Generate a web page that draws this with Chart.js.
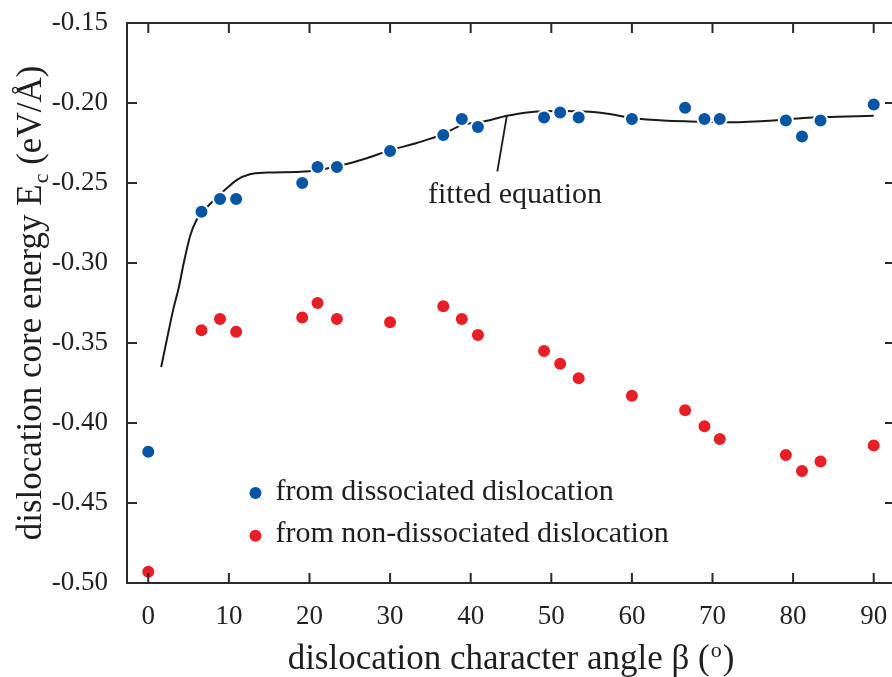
<!DOCTYPE html>
<html>
<head>
<meta charset="utf-8">
<script src="https://cdn.jsdelivr.net/npm/chart.js@4.4.1/dist/chart.umd.min.js"></script>
<style>
  html, body { margin: 0; padding: 0; background: #fff; overflow: hidden; }
  canvas { display: block; }
</style>
</head>
<body>
<canvas id="myChart" width="904" height="677"></canvas>
<script>
// Data
const angles = [0, 6.6, 8.9, 10.9, 19.1, 21.0, 23.4, 30.0, 36.6, 38.9, 40.9, 49.1, 51.1, 53.4, 60.0, 66.6, 69.0, 70.9, 79.1, 81.1, 83.4, 90.0];
const dissociated = [-0.418, -0.268, -0.260, -0.260, -0.250, -0.240, -0.240, -0.230, -0.220, -0.210, -0.215, -0.209, -0.206, -0.209, -0.210, -0.203, -0.210, -0.210, -0.211, -0.221, -0.211, -0.201];
const nonDissociated = [-0.493, -0.342, -0.335, -0.343, -0.334, -0.325, -0.335, -0.337, -0.327, -0.335, -0.345, -0.355, -0.363, -0.372, -0.383, -0.392, -0.402, -0.410, -0.420, -0.430, -0.424, -0.414];

// fitted curve
const fitAngles = [1.6, 2.3, 3.1, 3.8, 4.4, 5.2, 6.0, 7.3, 8.3, 9.8, 11.0, 12.6, 14.7, 18.9, 20.9, 25.1, 27.1, 30.0, 33.3, 36.6, 38.8, 41.6, 44.5, 47.0, 51.1, 54.8, 57.0, 60.0, 63.9, 67.2, 72.2, 77.6, 81.3, 83.8, 90.0];
const fitValues = [-0.365, -0.348, -0.329, -0.315, -0.300, -0.283, -0.273, -0.265, -0.260, -0.253, -0.248, -0.2445, -0.2435, -0.243, -0.242, -0.2375, -0.2345, -0.2296, -0.225, -0.2195, -0.2140, -0.2115, -0.2080, -0.2059, -0.2050, -0.2055, -0.2067, -0.2094, -0.2109, -0.2115, -0.2121, -0.2110, -0.2094, -0.2088, -0.2080];

const xTicks = [0, 10, 20, 30, 40, 50, 60, 70, 80, 90];
const yTicks = [-0.50, -0.45, -0.40, -0.35, -0.30, -0.25, -0.20, -0.15];

const blue = 'rgb(5,85,166)';
const red = 'rgb(232,30,38)';
const serif = "'Liberation Serif', 'Times New Roman', serif";

const pts = vals => angles.map((a, i) => ({ x: a, y: vals[i] }));

// frame, inward ticks, axis titles, legend and annotation
const decor = {
  id: 'decor',
  afterDatasetsDraw(chart) {
    const { ctx, chartArea: a, scales: { x, y } } = chart;
    ctx.save();
    ctx.strokeStyle = '#2a2a2a';
    ctx.lineWidth = 2;
    ctx.strokeRect(a.left, a.top, a.right - a.left, a.bottom - a.top);
    ctx.beginPath();
    x.ticks.forEach(t => {
      const px = x.getPixelForValue(t.value);
      ctx.moveTo(px, a.bottom); ctx.lineTo(px, a.bottom - 10);
      ctx.moveTo(px, a.top); ctx.lineTo(px, a.top + 10);
    });
    y.ticks.forEach(t => {
      const py = y.getPixelForValue(t.value);
      ctx.moveTo(a.left, py); ctx.lineTo(a.left + 10, py);
      ctx.moveTo(a.right, py); ctx.lineTo(a.right - 10, py);
    });
    ctx.stroke();

    ctx.fillStyle = '#1e1e1e';
    ctx.textBaseline = 'alphabetic';
    ctx.textAlign = 'left';

    // x title
    const big = '35px ' + serif, small = '22px ' + serif;
    ctx.font = big;
    const p1 = 'dislocation character angle \u03B2 (';
    const w1 = ctx.measureText(p1).width;
    const w3 = ctx.measureText(')').width;
    ctx.font = small;
    const w2 = ctx.measureText('o').width + 2;
    let sx = (a.left + a.right) / 2 - (w1 + w2 + w3) / 2;
    const by = 669;
    ctx.font = big; ctx.fillText(p1, sx, by);
    ctx.font = small; ctx.fillText('o', sx + w1 + 1, by - 12);
    ctx.font = big; ctx.fillText(')', sx + w1 + w2, by);

    // y title
    ctx.save();
    ctx.translate(41, (a.top + a.bottom) / 2);
    ctx.rotate(-Math.PI / 2);
    ctx.font = big;
    const q1 = 'dislocation core energy E';
    const q3 = ' (eV/\u00C5)';
    const v1 = ctx.measureText(q1).width, v3 = ctx.measureText(q3).width;
    ctx.font = small;
    const v2 = ctx.measureText('c').width + 1;
    let sy = -(v1 + v2 + v3) / 2;
    ctx.font = big; ctx.fillText(q1, sy, 0);
    ctx.font = small; ctx.fillText('c', sy + v1 + 1, 7);
    ctx.font = big; ctx.fillText(q3, sy + v1 + v2, 0);
    ctx.restore();

    // legend
    ctx.font = '30px ' + serif;
    [[blue, 'from dissociated dislocation', -0.4438], [red, 'from non-dissociated dislocation', -0.4704]].forEach(([c, label, v]) => {
      const px = x.getPixelForValue(13.3), py = y.getPixelForValue(v);
      ctx.fillStyle = c;
      ctx.beginPath(); ctx.arc(px, py, 6, 0, Math.PI * 2); ctx.fill();
      ctx.fillStyle = '#1e1e1e';
      ctx.fillText(label, px + 20, py + 6.5);
    });

    // fitted equation annotation
    ctx.strokeStyle = '#1e1e1e';
    ctx.lineWidth = 1.8;
    ctx.beginPath();
    ctx.moveTo(x.getPixelForValue(43.3), y.getPixelForValue(-0.2428));
    ctx.lineTo(x.getPixelForValue(44.5), y.getPixelForValue(-0.2075));
    ctx.stroke();
    ctx.textAlign = 'center';
    ctx.fillText('fitted equation', x.getPixelForValue(45.5), y.getPixelForValue(-0.2625));
    ctx.restore();
  }
};

const noPad = s => { s.paddingTop = 0; s.paddingBottom = 0; s.paddingLeft = 0; s.paddingRight = 0; };

new Chart(document.getElementById('myChart'), {
  type: 'scatter',
  data: {
    datasets: [
      {
        label: 'fitted equation',
        data: fitAngles.map((a, i) => ({ x: a, y: fitValues[i] })),
        showLine: true,
        borderColor: '#1a1a1a',
        borderWidth: 2,
        pointRadius: 0,
        cubicInterpolationMode: 'monotone',
        order: 3
      },
      {
        label: 'from non-dissociated dislocation',
        data: pts(nonDissociated),
        backgroundColor: red,
        borderColor: '#fff',
        borderWidth: 2,
        pointRadius: 7,
        order: 2
      },
      {
        label: 'from dissociated dislocation',
        data: pts(dissociated),
        backgroundColor: blue,
        borderColor: '#fff',
        borderWidth: 2,
        pointRadius: 7,
        order: 1
      }
    ]
  },
  options: {
    responsive: false,
    animation: false,
    layout: { padding: { top: 23, right: 0, left: 0, bottom: 0 } },
    plugins: { legend: { display: false }, tooltip: { enabled: false } },
    scales: {
      x: {
        type: 'linear',
        min: -2.64,
        max: 92.64,
        grid: { display: false, drawTicks: false },
        border: { display: false },
        afterBuildTicks: s => { s.ticks = xTicks.map(v => ({ value: v })); },
        afterFit: s => { s.height = 94; noPad(s); },
        ticks: { padding: 18, color: '#222', font: { family: serif, size: 27 }, callback: v => String(v) }
      },
      y: {
        min: -0.50,
        max: -0.15,
        grid: { display: false, drawTicks: false },
        border: { display: false },
        afterBuildTicks: s => { s.ticks = yTicks.map(v => ({ value: v })); },
        afterFit: s => { s.width = 127; noPad(s); },
        ticks: { padding: 19, color: '#222', font: { family: serif, size: 27 }, callback: v => v.toFixed(2) }
      }
    }
  },
  plugins: [decor]
});
</script>
</body>
</html>
